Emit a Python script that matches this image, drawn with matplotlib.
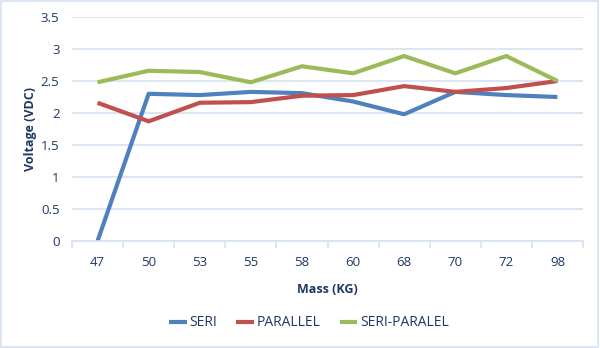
import matplotlib.pyplot as plt
from matplotlib.patches import Rectangle

plt.rcParams['font.family'] = ['Open Sans', 'DejaVu Sans']

# masses (kg) and measured output voltage for each wiring mode
mass = ['47', '50', '53', '55', '58', '60', '68', '70', '72', '98']
seri = [0, 2.30, 2.28, 2.33, 2.31, 2.18, 1.98, 2.33, 2.28, 2.25]
parallel = [2.16, 1.87, 2.16, 2.17, 2.27, 2.28, 2.42, 2.33, 2.39, 2.50]
seri_paralel = [2.48, 2.66, 2.64, 2.48, 2.73, 2.62, 2.89, 2.62, 2.89, 2.50]

text_col = '#1F3864'
grid_col = '#D6E1F0'

fig = plt.figure(figsize=(6, 3.48), dpi=100)
fig.patches.append(Rectangle((0.002, 0.003), 0.995, 0.994, transform=fig.transFigure,
                             fill=False, edgecolor='#D6E1F0', linewidth=1.2))
ax = fig.add_axes([72 / 600, 1 - 241 / 348, 511 / 600, 224 / 348])

x = range(len(mass))
ax.plot(x, seri, color='#4F81BD', lw=3.0, label='SERI', solid_capstyle='butt')
ax.plot(x, parallel, color='#C0504D', lw=3.0, label='PARALLEL', solid_capstyle='butt')
ax.plot(x, seri_paralel, color='#9BBB59', lw=3.0, label='SERI-PARALEL', solid_capstyle='butt')

ax.set_xlim(-0.5, len(mass) - 0.5)
ax.set_ylim(0, 3.5)
ax.set_yticks([0, 0.5, 1, 1.5, 2, 2.5, 3, 3.5])
ax.set_yticklabels(['0', '0.5', '1', '1.5', '2', '2.5', '3', '3.5'])
ax.set_xticks(list(x))
ax.set_xticklabels(mass)
ax.set_xticks([i - 0.5 for i in range(len(mass) + 1)], minor=True)
ax.tick_params(axis='x', which='major', length=0, pad=11, labelsize=9.5, labelcolor=text_col)
ax.tick_params(axis='x', which='minor', length=5, color=grid_col, width=1.2)
ax.tick_params(axis='y', length=0, pad=9, labelsize=9.5, labelcolor=text_col)

ax.grid(axis='y', color=grid_col, lw=1.2)
ax.set_axisbelow(True)
for s in ['left', 'right', 'top']:
    ax.spines[s].set_visible(False)
ax.spines['bottom'].set_color(grid_col)
ax.spines['bottom'].set_linewidth(1.2)

ax.set_xlabel('Mass (KG)', fontsize=9, fontweight='bold', color=text_col, labelpad=10)
ax.set_ylabel('Voltage (VDC)', fontsize=9, fontweight='bold', color=text_col, labelpad=3)

fig.legend(loc='center', bbox_to_anchor=(0.515, 1 - 323 / 348), ncol=3, frameon=False,
           fontsize=10, labelcolor=text_col, handlelength=1.25, handletextpad=0.2,
           columnspacing=1.4)

fig.savefig('out.png', dpi=100)
